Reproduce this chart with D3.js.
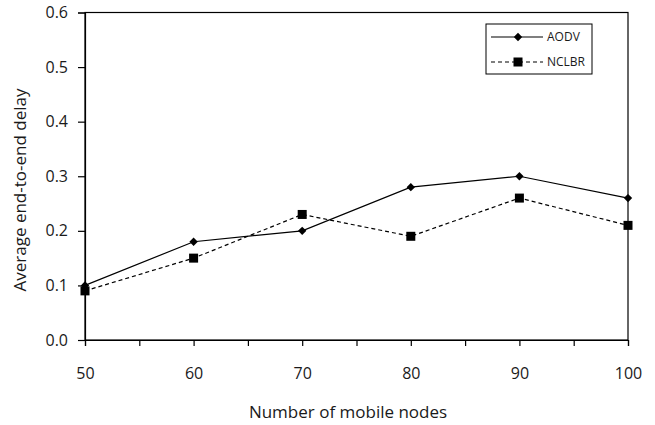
<!DOCTYPE html>
<html><head><meta charset="utf-8">
<script src="https://cdn.jsdelivr.net/npm/d3@7"></script>
<style>body{margin:0;background:#fff}svg{display:block}text{font-family:"Open Sans",sans-serif;fill:#1a1a1a}</style>
</head><body>
<script>
const nodes = [50, 60, 70, 80, 90, 100];
const aodv = [0.10, 0.18, 0.20, 0.28, 0.30, 0.26];
const nclbr = [0.09, 0.15, 0.23, 0.19, 0.26, 0.21];
const yTicks = [0, 0.1, 0.2, 0.3, 0.4, 0.5, 0.6];
const xMinorTicks = [50, 55, 60, 65, 70, 75, 80, 85, 90, 95, 100];
const seriesNames = ["AODV", "NCLBR"];

const W = 655, H = 425;
const m = {l: 85, r: 27, t: 12.5, b: 85};
const svg = d3.select("body").append("svg").attr("width", W).attr("height", H);
const x = d3.scaleLinear().domain([50, 100]).range([m.l, W - m.r]);
const y = d3.scaleLinear().domain([0, 0.6]).range([H - m.b, m.t]);

// box
svg.append("rect").attr("x", x(50)).attr("y", y(0.6)).attr("width", x(100) - x(50)).attr("height", y(0) - y(0.6))
  .attr("fill", "none").attr("stroke", "#000").attr("stroke-width", 1.2);

// x axis
const xa = svg.append("g").attr("transform", `translate(0,${y(0)})`)
  .call(d3.axisBottom(x).tickValues(xMinorTicks).tickSize(6).tickFormat(d => nodes.includes(d) ? d : ""));
xa.select(".domain").attr("stroke", "#000").attr("stroke-width", 1.2);
xa.selectAll(".tick line").attr("stroke", "#000").attr("stroke-width", 1.2);
xa.selectAll("text").attr("font-size", 16).attr("dy", "1.86em").style("font-family", "Open Sans").attr("fill", "#1a1a1a");

// y axis
const ya = svg.append("g").attr("transform", `translate(${x(50)},0)`)
  .call(d3.axisLeft(y).tickValues(yTicks).tickSize(7).tickFormat(d3.format(".1f")));
ya.select(".domain").attr("stroke", "#000").attr("stroke-width", 1.2);
ya.selectAll(".tick line").attr("stroke", "#000").attr("stroke-width", 1.2);
ya.selectAll("text").attr("font-size", 16).attr("x", -17).style("font-family", "Open Sans").attr("fill", "#1a1a1a");

// axis titles
svg.append("text").attr("x", 348).attr("y", 418).attr("text-anchor", "middle")
  .attr("font-size", 17).text("Number of mobile nodes");
svg.append("text").attr("transform", `translate(25.5,190) rotate(-90)`).attr("text-anchor", "middle")
  .attr("font-size", 17).text("Average end-to-end delay");

const line = d3.line().x((d, i) => x(nodes[i])).y(d => y(d));
svg.append("path").datum(aodv).attr("d", line).attr("fill", "none").attr("stroke", "#000").attr("stroke-width", 1.2);
svg.append("path").datum(nclbr).attr("d", line).attr("fill", "none").attr("stroke", "#000").attr("stroke-width", 1.2)
  .attr("stroke-dasharray", "4,3");

const diamond = d3.symbol().type(d3.symbolDiamond2).size(45);
svg.selectAll(".dm").data(aodv).enter().append("path")
  .attr("transform", (d, i) => `translate(${x(nodes[i])},${y(d)})`).attr("d", diamond).attr("fill", "#000");
svg.selectAll(".sq").data(nclbr).enter().append("rect")
  .attr("x", (d, i) => x(nodes[i]) - 4.5).attr("y", d => y(d) - 4.5).attr("width", 9).attr("height", 9).attr("fill", "#000");

// legend
const lg = svg.append("g");
lg.append("rect").attr("x", 486).attr("y", 24).attr("width", 106).attr("height", 50)
  .attr("fill", "#fff").attr("stroke", "#000").attr("stroke-width", 1);
const rows = [37, 62];
seriesNames.forEach((s, i) => {
  const yy = rows[i];
  lg.append("line").attr("x1", 491).attr("x2", 543).attr("y1", yy).attr("y2", yy).attr("stroke", "#000").attr("stroke-width", 1.2)
    .attr("stroke-dasharray", i ? "4,3" : null);
  if (i === 0) lg.append("path").attr("transform", `translate(518,${yy})`).attr("d", diamond).attr("fill", "#000");
  else lg.append("rect").attr("x", 513.5).attr("y", yy - 4.5).attr("width", 9).attr("height", 9).attr("fill", "#000");
  lg.append("text").attr("x", 547).attr("y", yy).attr("dy", "0.35em").attr("font-size", 12).text(s);
});
</script>
</body></html>
